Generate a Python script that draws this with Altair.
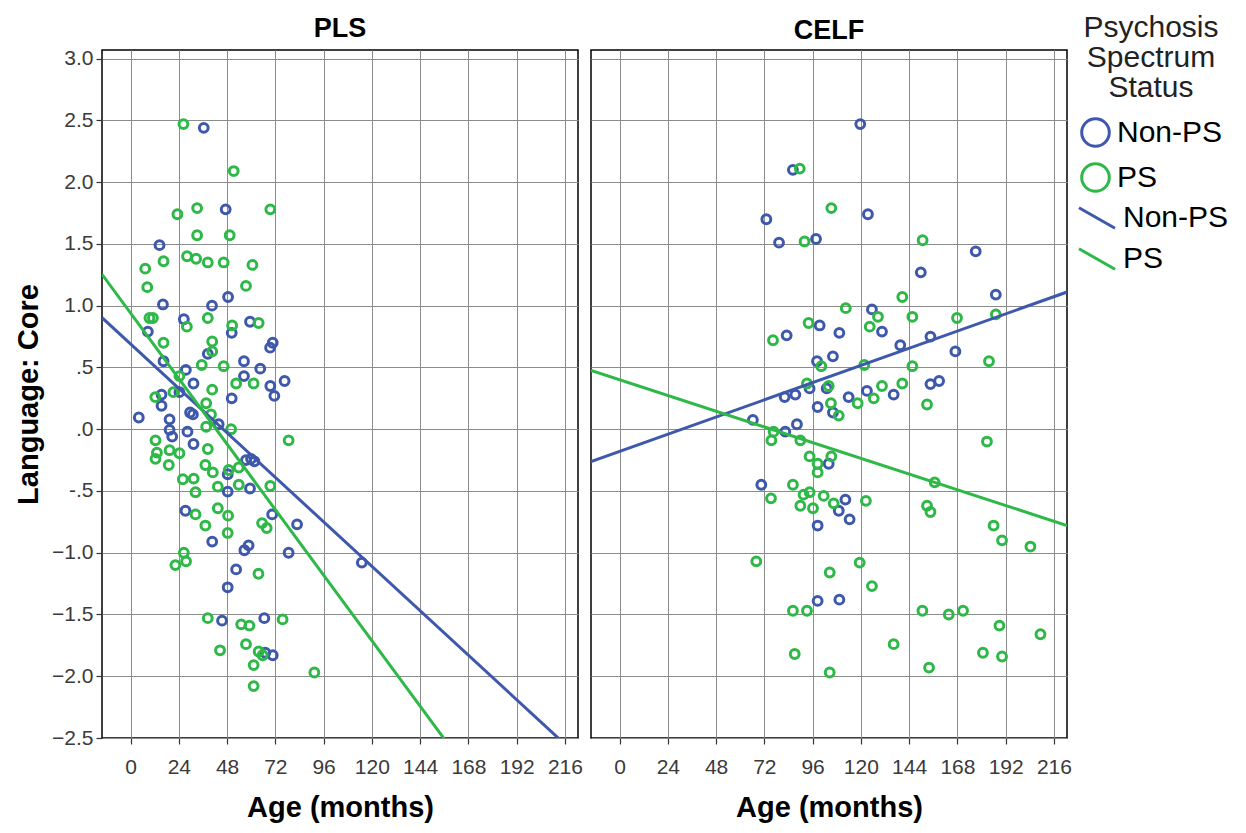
import altair as alt
import pandas as pd

groups = ["Non-PS", "PS"]
fit_groups = ["Non-PS fit", "PS fit"]
colors = ["#3E58AC", "#2EB848"]

# ---- PLS panel ----
pls_nonps_age = [36.4, 47.3, 14.4, 48.5, 16.1, 40.5, 26.5, 50.3, 59.4, 8.6, 70.7, 69.4,
                 38.4, 16.4, 56.4, 64.5, 27.5, 56.4, 76.6, 31.3, 69.5, 71.5, 50.3, 15.4,
                 15.4, 24.3, 29.6, 31.0, 4.1, 19.4, 43.8, 19.4, 20.7, 28.3, 31.3, 57.4,
                 59.9, 61.6, 48.3, 48.3, 59.4, 27.3, 70.4, 82.8, 40.6, 56.6, 58.7, 78.6,
                 52.5, 48.3, 45.5, 66.5, 67.0, 70.7, 115.0]
pls_nonps_core = [2.44, 1.78, 1.49, 1.07, 1.01, 1.00, 0.89, 0.78, 0.87, 0.79, 0.70, 0.66,
                  0.61, 0.55, 0.55, 0.49, 0.48, 0.43, 0.39, 0.37, 0.35, 0.27, 0.25, 0.28,
                  0.19, 0.30, 0.135, 0.12, 0.095, 0.08, 0.04, -0.005, -0.06, -0.02, -0.12, -0.25,
                  -0.24, -0.26, -0.365, -0.505, -0.48, -0.66, -0.69, -0.77, -0.91, -0.98, -0.94, -1.00,
                  -1.135, -1.28, -1.55, -1.53, -1.81, -1.83, -1.08]

pls_ps_age = [26.3, 51.3, 23.3, 33.1, 69.5, 33.1, 49.3, 7.3, 16.4, 28.1, 32.6, 38.4,
              46.3, 60.6, 8.3, 57.4, 9.4, 11.1, 28.0, 38.4, 50.5, 63.7, 16.4, 40.6,
              40.6, 35.4, 46.3, 24.3, 52.5, 61.2, 40.6, 12.3, 21.3, 37.6, 40.0, 37.6,
              50.0, 78.6, 12.4, 13.1, 12.4, 19.4, 24.3, 19.0, 38.4, 37.2, 40.9, 48.8,
              53.8, 26.0, 31.4, 32.3, 43.4, 53.8, 69.5, 32.3, 43.4, 48.5, 37.2, 65.4,
              67.7, 48.3, 26.5, 27.6, 22.3, 63.6, 38.4, 55.0, 59.1, 75.6, 57.4, 44.5,
              63.7, 65.7, 61.2, 91.4, 61.2]
pls_ps_core = [2.47, 2.09, 1.74, 1.79, 1.78, 1.57, 1.57, 1.30, 1.36, 1.40, 1.38, 1.35,
               1.35, 1.33, 1.15, 1.16, 0.90, 0.90, 0.83, 0.90, 0.84, 0.86, 0.70, 0.71,
               0.63, 0.52, 0.51, 0.43, 0.37, 0.37, 0.32, 0.26, 0.30, 0.21, 0.12, 0.02,
               0.00, -0.09, -0.09, -0.19, -0.24, -0.17, -0.195, -0.29, -0.16, -0.29, -0.35, -0.33,
               -0.31, -0.405, -0.40, -0.51, -0.465, -0.45, -0.46, -0.69, -0.64, -0.70, -0.78, -0.76,
               -0.80, -0.84, -1.00, -1.07, -1.10, -1.17, -1.53, -1.58, -1.59, -1.54, -1.74, -1.79,
               -1.80, -1.83, -1.91, -1.97, -2.08]

# ---- CELF panel ----
celf_nonps_age = [86.2, 73.0, 79.3, 97.7, 83.1, 99.5, 109.3, 106.1, 98.2, 94.5, 103.0, 82.1,
                  87.4, 98.5, 106.1, 66.3, 88.2, 82.4, 104.0, 70.5, 109.0, 112.3, 98.5, 114.4,
                  98.5, 109.3, 119.7, 123.5, 177.1, 149.8, 187.1, 125.5, 130.5, 139.6, 154.6, 167.0,
                  154.6, 158.9, 123.0, 136.3, 113.9]
celf_nonps_core = [2.10, 1.70, 1.51, 1.54, 0.76, 0.84, 0.78, 0.59, 0.55, 0.33, 0.33, 0.26,
                   0.28, 0.18, 0.135, 0.075, 0.04, -0.02, -0.28, -0.45, -0.66, -0.57, -0.78, -0.73,
                   -1.39, -1.38, 2.47, 1.74, 1.44, 1.27, 1.09, 0.97, 0.79, 0.68, 0.75, 0.63,
                   0.365, 0.39, 0.31, 0.28, 0.26]

celf_ps_age = [89.6, 105.3, 92.0, 112.5, 76.3, 94.0, 100.3, 93.2, 104.0, 105.1, 109.0, 76.6,
               75.5, 89.9, 94.5, 98.5, 98.5, 105.3, 86.2, 75.3, 91.5, 94.5, 89.9, 96.2,
               101.5, 106.5, 68.0, 104.5, 86.2, 93.2, 87.1, 104.5, 150.7, 140.6, 128.5, 145.6,
               167.8, 187.1, 124.4, 121.7, 145.6, 183.7, 130.5, 140.6, 126.4, 118.4, 152.9, 182.7,
               156.7, 122.5, 152.9, 154.6, 186.0, 190.2, 204.3, 119.4, 125.5, 150.6, 163.7, 170.8,
               188.9, 209.3, 136.3, 180.7, 190.2, 153.9]
celf_ps_core = [2.11, 1.79, 1.52, 0.98, 0.72, 0.86, 0.51, 0.37, 0.35, 0.21, 0.11, -0.02,
                -0.09, -0.09, -0.22, -0.28, -0.35, -0.22, -0.45, -0.56, -0.53, -0.51, -0.62, -0.64,
                -0.54, -0.60, -1.07, -1.16, -1.47, -1.47, -1.82, -1.97, 1.53, 1.07, 0.91, 0.91,
                0.90, 0.93, 0.83, 0.52, 0.51, 0.55, 0.35, 0.37, 0.25, 0.21, 0.20, -0.10,
                -0.43, -0.58, -0.62, -0.67, -0.78, -0.90, -0.95, -1.08, -1.27, -1.47, -1.50, -1.47,
                -1.59, -1.66, -1.74, -1.81, -1.84, -1.93]

# fit lines (intercept, slope), in order Non-PS, PS
pls_intercepts = [0.69, 0.94]
pls_slopes = [-0.0150, -0.0221]
celf_intercepts = [-0.18, 0.40]
celf_slopes = [0.0058, -0.0053]

x_domain = [-14.2, 222.5]
y_domain = [-2.5, 3.07]
x_ticks = [0, 24, 48, 72, 96, 120, 144, 168, 192, 216]
y_ticks = [-2.5, -2.0, -1.5, -1.0, -0.5, 0.0, 0.5, 1.0, 1.5, 2.0, 2.5, 3.0]

FONT = "Liberation Sans"


def points_df(a1, v1, a2, v2):
    rows = [{"age": a, "core": v, "group": groups[0]} for a, v in zip(a1, v1)]
    rows += [{"age": a, "core": v, "group": groups[1]} for a, v in zip(a2, v2)]
    return pd.DataFrame(rows)


def lines_df(intercepts, slopes):
    rows = []
    for g, a, b in zip(fit_groups, intercepts, slopes):
        for x in x_domain:
            rows.append({"age": x, "core": a + b * x, "fit": g})
    return pd.DataFrame(rows)


def panel(pts, lns, title, show_y):
    xenc = alt.X("age:Q", scale=alt.Scale(domain=x_domain, nice=False, zero=False),
                 axis=alt.Axis(values=x_ticks, title="Age (months)", format="d"))
    if show_y:
        yaxis = alt.Axis(values=y_ticks, title="Language: Core",
                         labelExpr="datum.value == 0 ? '.0' : (datum.value == 0.5 ? '.5' : (datum.value == -0.5 ? '-.5' : format(datum.value, '.1f')))")
    else:
        yaxis = alt.Axis(values=y_ticks, labels=False, ticks=False, title=None)
    yenc = alt.Y("core:Q", scale=alt.Scale(domain=y_domain, nice=False, zero=False), axis=yaxis)

    pts_layer = alt.Chart(pts).mark_point(filled=False, size=78, strokeWidth=3, opacity=1, clip=True).encode(
        x=xenc, y=yenc,
        color=alt.Color("group:N", scale=alt.Scale(domain=groups, range=colors),
                        legend=alt.Legend(title=["Psychosis", "Spectrum", "Status"], symbolType="circle",
                                          symbolSize=760, symbolStrokeWidth=3, orient="none",
                                          legendX=978, legendY=-37)),
    )
    line_layer = alt.Chart(lns).mark_line(strokeWidth=3, clip=True).encode(
        x=xenc, y=yenc, detail="fit:N",
        stroke=alt.Stroke("fit:N", scale=alt.Scale(domain=fit_groups, range=colors),
                          legend=alt.Legend(title=None, symbolType="M-1,-0.57L1,0.57", symbolSize=1300,
                                            symbolStrokeWidth=3, orient="none", legendX=975, legendY=148,
                                            labelExpr="replace(datum.label, ' fit', '')")),
    )
    return alt.layer(pts_layer, line_layer).properties(
        width=476, height=688,
        title=alt.TitleParams(title, fontSize=27, fontWeight="bold", font=FONT, offset=5, color="black"),
    )


left = panel(points_df(pls_nonps_age, pls_nonps_core, pls_ps_age, pls_ps_core),
             lines_df(pls_intercepts, pls_slopes), "PLS", True)
right = panel(points_df(celf_nonps_age, celf_nonps_core, celf_ps_age, celf_ps_core),
              lines_df(celf_intercepts, celf_slopes), "CELF", False)

chart = alt.hconcat(left, right, spacing=6).resolve_scale(color="shared", stroke="shared").configure_view(
    stroke="black", strokeWidth=1.5
).configure_axis(
    grid=True, gridColor="#8c8c8c", gridWidth=1, domain=False,
    tickColor="#333333", tickSize=6, tickWidth=1.2,
    labelFont=FONT, labelFontSize=21, labelColor="#3a3a3a", labelPadding=3,
    titleFont=FONT, titleFontSize=29, titleFontWeight="bold", titleColor="black",
).configure_axisX(titlePadding=16, labelPadding=12).configure_axisY(titlePadding=8).configure_legend(
    labelFont=FONT, labelFontSize=30, labelColor="black", labelOffset=6,
    titleFont=FONT, titleFontSize=30, titleFontWeight="normal", titleColor="#222222",
    titleAlign="center", titleAnchor="middle", titleLineHeight=30, titlePadding=14,
    rowPadding=4, padding=0,
)

chart.save("out.html", embed_options={"renderer": "svg", "actions": False})
